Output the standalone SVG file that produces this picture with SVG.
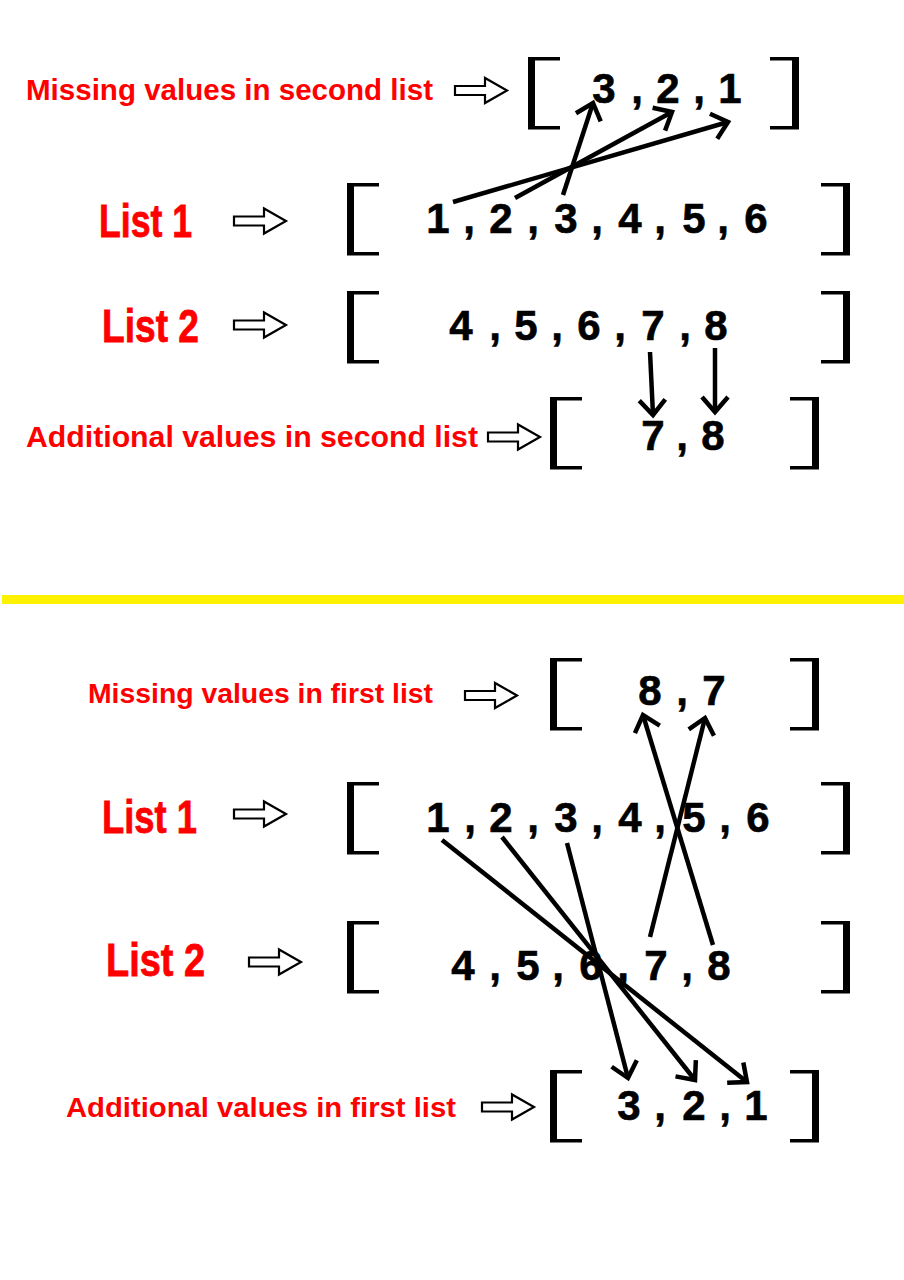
<svg xmlns="http://www.w3.org/2000/svg" width="904" height="1280" viewBox="0 0 904 1280">
<style>
.lbl{font-family:"Liberation Sans",Arial,sans-serif;font-weight:bold;fill:#ff0000;}
.big{font-family:"Liberation Sans",Arial,sans-serif;font-weight:bold;fill:#ff0000;font-size:47px;stroke:#ff0000;stroke-width:0.8;}
.num{font-family:"Liberation Sans",Arial,sans-serif;font-weight:bold;fill:#000;font-size:42px;text-anchor:middle;stroke:#000;stroke-width:0.6;}
.br{fill:#000;}
.ha{fill:#fff;stroke:#000;stroke-width:2.2;stroke-linejoin:miter;}
.con line{stroke:#000;stroke-width:4.5;stroke-linecap:butt;marker-end:url(#ah);}
</style>
<defs>
<marker id="ah" markerUnits="userSpaceOnUse" viewBox="0 0 24 30" refX="19" refY="15" markerWidth="24" markerHeight="30" orient="auto">
<path d="M4,2 L19,15 L4,28" fill="none" stroke="#000" stroke-width="4.5"/>
</marker>
<path id="hollow" d="M0,-4.5 H30 V-12.5 L52,0 L30,12.5 V4.5 H0 Z"/>
<path id="lb" d="M0,0 H32 V3.5 H7 V69 H32 V72.5 H0 Z"/>
<path id="rb" d="M0,0 H29 V72.5 H0 V69 H22 V3.5 H0 Z"/>
</defs>
<rect width="904" height="1280" fill="#fff"/>
<rect x="2" y="595" width="902" height="9" fill="#fff200"/>

<!-- Top section -->
<g id="missing-second">
<text class="lbl" x="26" y="100" font-size="29" textLength="407" lengthAdjust="spacingAndGlyphs">Missing values in second list</text>
<use href="#hollow" class="ha" transform="translate(455,90.5)"/>
<use href="#lb" class="br" transform="translate(528,57)"/>
<use href="#rb" class="br" transform="translate(770,57)"/>
<text class="num" x="604" y="103">3</text><text class="num" x="637" y="103">,</text>
<text class="num" x="668" y="103">2</text><text class="num" x="699" y="103">,</text>
<text class="num" x="730" y="103">1</text>
</g>

<g id="list1-top">
<text class="big" x="99" y="237" textLength="93" lengthAdjust="spacingAndGlyphs">List 1</text>
<use href="#hollow" class="ha" transform="translate(234,221)"/>
<use href="#lb" class="br" transform="translate(347,183)"/>
<use href="#rb" class="br" transform="translate(821,183)"/>
<text class="num" x="438" y="233">1</text><text class="num" x="469" y="233">,</text>
<text class="num" x="501" y="233">2</text><text class="num" x="533" y="233">,</text>
<text class="num" x="566" y="233">3</text><text class="num" x="597" y="233">,</text>
<text class="num" x="630" y="233">4</text><text class="num" x="660" y="233">,</text>
<text class="num" x="694" y="233">5</text><text class="num" x="723" y="233">,</text>
<text class="num" x="756" y="233">6</text>
</g>

<g id="list2-top">
<text class="big" x="102" y="342" textLength="97" lengthAdjust="spacingAndGlyphs">List 2</text>
<use href="#hollow" class="ha" transform="translate(234,325)"/>
<use href="#lb" class="br" transform="translate(347,291)"/>
<use href="#rb" class="br" transform="translate(821,291)"/>
<text class="num" x="461" y="340">4</text><text class="num" x="495" y="340">,</text>
<text class="num" x="526" y="340">5</text><text class="num" x="557" y="340">,</text>
<text class="num" x="589" y="340">6</text><text class="num" x="620" y="340">,</text>
<text class="num" x="653" y="340">7</text><text class="num" x="685" y="340">,</text>
<text class="num" x="716" y="340">8</text>
</g>

<g id="additional-second">
<text class="lbl" x="26" y="447" font-size="29" textLength="452" lengthAdjust="spacingAndGlyphs">Additional values in second list</text>
<use href="#hollow" class="ha" transform="translate(488,437)"/>
<use href="#lb" class="br" transform="translate(550,397)"/>
<use href="#rb" class="br" transform="translate(790,397)"/>
<text class="num" x="653" y="450">7</text><text class="num" x="682" y="450">,</text>
<text class="num" x="713" y="450">8</text>
</g>

<!-- Bottom section -->
<g id="missing-first">
<text class="lbl" x="88" y="703" font-size="28" textLength="345" lengthAdjust="spacingAndGlyphs">Missing values in first list</text>
<use href="#hollow" class="ha" transform="translate(465,695.5)"/>
<use href="#lb" class="br" transform="translate(550,658)"/>
<use href="#rb" class="br" transform="translate(790,658)"/>
<text class="num" x="650" y="705">8</text><text class="num" x="682" y="705">,</text>
<text class="num" x="714" y="705">7</text>
</g>

<g id="list1-bottom">
<text class="big" x="102" y="833" textLength="95" lengthAdjust="spacingAndGlyphs">List 1</text>
<use href="#hollow" class="ha" transform="translate(234,814)"/>
<use href="#lb" class="br" transform="translate(347,782)"/>
<use href="#rb" class="br" transform="translate(821,782)"/>
<text class="num" x="438" y="832">1</text><text class="num" x="470" y="832">,</text>
<text class="num" x="501" y="832">2</text><text class="num" x="533" y="832">,</text>
<text class="num" x="566" y="832">3</text><text class="num" x="597" y="832">,</text>
<text class="num" x="630" y="832">4</text><text class="num" x="660" y="832">,</text>
<text class="num" x="694" y="832">5</text><text class="num" x="725" y="832">,</text>
<text class="num" x="758" y="832">6</text>
</g>

<g id="list2-bottom">
<text class="big" x="106" y="976" textLength="99" lengthAdjust="spacingAndGlyphs">List 2</text>
<use href="#hollow" class="ha" transform="translate(249,962)"/>
<use href="#lb" class="br" transform="translate(347,921)"/>
<use href="#rb" class="br" transform="translate(821,921)"/>
<text class="num" x="463" y="980">4</text><text class="num" x="495" y="980">,</text>
<text class="num" x="528" y="980">5</text><text class="num" x="558" y="980">,</text>
<text class="num" x="591" y="980">6</text><text class="num" x="623" y="980">,</text>
<text class="num" x="656" y="980">7</text><text class="num" x="687" y="980">,</text>
<text class="num" x="719" y="980">8</text>
</g>

<g id="additional-first">
<text class="lbl" x="66" y="1117" font-size="28" textLength="390" lengthAdjust="spacingAndGlyphs">Additional values in first list</text>
<use href="#hollow" class="ha" transform="translate(482,1107)"/>
<use href="#lb" class="br" transform="translate(550,1070)"/>
<use href="#rb" class="br" transform="translate(790,1070)"/>
<text class="num" x="629" y="1120">3</text><text class="num" x="660" y="1120">,</text>
<text class="num" x="694" y="1120">2</text><text class="num" x="725" y="1120">,</text>
<text class="num" x="756" y="1120">1</text>
</g>

<g id="connectors" class="con">
<line x1="453" y1="202" x2="728" y2="122"/>
<line x1="515" y1="198" x2="672" y2="112"/>
<line x1="563" y1="195" x2="593" y2="103"/>
<line x1="650" y1="352" x2="653" y2="415"/>
<line x1="715" y1="348" x2="715" y2="412"/>
<line x1="650" y1="937" x2="705" y2="718"/>
<line x1="713" y1="945" x2="643" y2="715"/>
<line x1="442" y1="840" x2="747" y2="1082"/>
<line x1="502" y1="837" x2="695" y2="1080"/>
<line x1="567" y1="843" x2="628" y2="1078"/>
</g>
</svg>
